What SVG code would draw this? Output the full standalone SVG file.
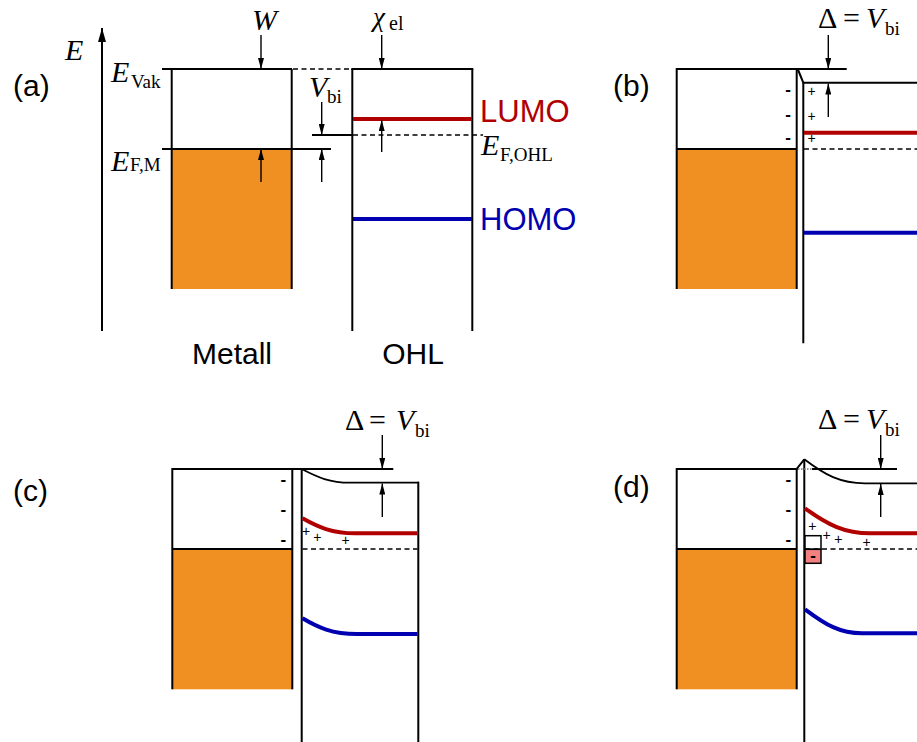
<svg xmlns="http://www.w3.org/2000/svg" width="917" height="742" viewBox="0 0 917 742">
<defs>
<style>
.ln{stroke:#000;stroke-width:2;fill:none}
.cv{stroke:#000;stroke-width:1.8;fill:none}
.dash{stroke:#000;stroke-width:1.6;stroke-dasharray:5 3.5;fill:none}
.dot{stroke:#777;stroke-width:1.3;stroke-dasharray:1.5 1.5;fill:none}
.lumo{stroke:#B00000;stroke-width:4;fill:none}
.homo{stroke:#0000B0;stroke-width:4;fill:none}
.metal{fill:#F09022}
.arr{stroke:#000;stroke-width:1.4;fill:none;marker-end:url(#ah)}
.lab{font-family:"Liberation Sans",Arial,sans-serif;font-size:30px;fill:#000}
.m{font-family:"Liberation Serif","Times New Roman",serif;font-size:30px;font-style:italic;fill:#000}
.r{font-family:"Liberation Serif","Times New Roman",serif;font-size:30px;fill:#000}
.sub{font-family:"Liberation Serif","Times New Roman",serif;font-size:19px;fill:#000}
.neg{font-family:"Liberation Sans",Arial,sans-serif;font-size:17px;font-weight:bold;text-anchor:middle;fill:#000}
.pos{font-family:"Liberation Sans",Arial,sans-serif;font-size:14px;text-anchor:middle;fill:#000}
</style>
<marker id="ah" markerUnits="userSpaceOnUse" markerWidth="11" markerHeight="6" refX="11" refY="3" orient="auto"><path d="M0,0 L11,3 L0,6 z" fill="#000"/></marker>
<marker id="axh" markerUnits="userSpaceOnUse" markerWidth="14" markerHeight="8" refX="14" refY="4" orient="auto"><path d="M0,0 L14,4 L0,8 z" fill="#000"/></marker>
</defs>
<rect width="917" height="742" fill="#fff"/>

<!-- Panel (a) -->
<g id="panel-a">
  <text class="lab" x="13" y="96">(a)</text>
  <g id="a-axis">
    <line x1="102" y1="331" x2="102" y2="28" stroke="#000" stroke-width="2" marker-end="url(#axh)"/>
    <text class="m" x="65" y="60">E</text>
  </g>
  <g id="a-metal">
    <rect class="metal" x="171.7" y="149" width="120" height="140"/>
    <line class="ln" x1="171.7" y1="69" x2="171.7" y2="289"/>
    <line class="ln" x1="291.7" y1="69" x2="291.7" y2="289"/>
    <line class="ln" x1="162" y1="69" x2="292" y2="69"/>
    <line class="ln" x1="162" y1="149" x2="331" y2="149"/>
    <line class="dash" x1="293" y1="69" x2="352" y2="69"/>
    <text class="m" x="111" y="82">E</text><text class="sub" x="131" y="88">Vak</text>
    <text class="m" x="111" y="171">E</text><text class="sub" x="130" y="171">F,M</text>
    <text class="m" x="252" y="30">W</text>
    <text class="lab" x="232" y="364" text-anchor="middle">Metall</text>
  </g>
  <g id="a-ohl">
    <line class="ln" x1="352.3" y1="69" x2="352.3" y2="331"/>
    <line class="ln" x1="472.3" y1="69" x2="472.3" y2="331"/>
    <line class="ln" x1="351.3" y1="69" x2="473.3" y2="69"/>
    <line class="lumo" x1="353" y1="119" x2="472" y2="119"/>
    <line class="homo" x1="353" y1="219" x2="472" y2="219"/>
    <line class="ln" x1="312" y1="135" x2="352" y2="135" style="stroke-width:1.8"/>
    <line class="dash" x1="353" y1="135" x2="483" y2="135"/>
    <text class="lab" x="480" y="121.7" style="fill:#B00000;font-size:31px">LUMO</text>
    <text class="lab" x="480" y="230" style="fill:#0000B0;font-size:31px">HOMO</text>
    <text class="m" x="481" y="155">E</text><text class="sub" x="500" y="160.7">F,OHL</text>
    <text class="m" x="373" y="26" style="font-size:27px">χ</text><text class="sub" x="389" y="30" style="font-size:20px">el</text>
    <text class="m" x="309" y="97">V</text><text class="sub" x="327" y="103.3">bi</text>
    <text class="lab" x="413" y="364" text-anchor="middle">OHL</text>
  </g>
</g>

<!-- Panel (b) -->
<g id="panel-b">
  <text class="lab" x="613" y="96">(b)</text>
  <g id="b-metal">
    <rect class="metal" x="676.7" y="149" width="120" height="140"/>
    <line class="ln" x1="676.7" y1="68" x2="676.7" y2="289"/>
    <line class="ln" x1="796.7" y1="69" x2="796.7" y2="289"/>
    <line class="ln" x1="676.7" y1="69" x2="846.7" y2="69"/>
    <line class="ln" x1="676.7" y1="149" x2="796.7" y2="149"/>
    <text class="neg" x="788" y="95">-</text>
    <text class="neg" x="788" y="120">-</text>
    <text class="neg" x="788" y="143">-</text>
  </g>
  <g id="b-ohl">
    <polyline class="ln" points="797.7,69 803.3,82.7 917,82.7"/>
    <line class="ln" x1="803.3" y1="82.7" x2="803.3" y2="343.3"/>
    <line class="lumo" x1="804" y1="132.7" x2="917" y2="132.7"/>
    <line class="dash" x1="804" y1="149" x2="917" y2="149"/>
    <line class="homo" x1="804" y1="232.7" x2="917" y2="232.7"/>
    <text class="pos" x="811.7" y="95.5">+</text>
    <text class="pos" x="811.7" y="120.5">+</text>
    <text class="pos" x="811.7" y="143">+</text>
  </g>
  <g id="b-label">
    <text class="r" x="818" y="28">Δ</text><text class="r" x="843" y="28">=</text><text class="m" x="866" y="28">V</text><text class="sub" x="885" y="35">bi</text>
  </g>
</g>

<!-- Panel (c) -->
<g id="panel-c">
  <text class="lab" x="13" y="501">(c)</text>
  <g id="c-metal">
    <rect class="metal" x="172.3" y="549" width="120" height="140.3"/>
    <line class="ln" x1="172.3" y1="468" x2="172.3" y2="689.3"/>
    <line class="ln" x1="292.3" y1="469" x2="292.3" y2="689.3"/>
    <line class="ln" x1="172.3" y1="469" x2="393.3" y2="469"/>
    <line class="ln" x1="172.3" y1="549" x2="292.3" y2="549"/>
    <text class="neg" x="283.3" y="485">-</text>
    <text class="neg" x="283.3" y="515">-</text>
    <text class="neg" x="283.3" y="545">-</text>
  </g>
  <g id="c-ohl">
    <line class="ln" x1="301.7" y1="469" x2="301.7" y2="742"/>
    <line class="ln" x1="418.3" y1="481.8" x2="418.3" y2="742"/>
    <path class="cv" d="M301.7,469 C318,477.5 330,482.7 350,482.7 L419,482.7"/>
    <path class="lumo" d="M302.5,518.3 C318,527 332,533.3 355,533.3 L417.5,533.3"/>
    <line class="dash" x1="302.5" y1="549" x2="417.5" y2="549"/>
    <path class="homo" d="M302.5,618.3 C318,627.5 332,634 357,634 L417.5,634"/>
    <text class="pos" x="306" y="536">+</text>
    <text class="pos" x="317.3" y="541.7">+</text>
    <text class="pos" x="345.7" y="545">+</text>
  </g>
  <g id="c-label">
    <text class="r" x="345" y="430">Δ</text><text class="r" x="369" y="430">=</text><text class="m" x="396" y="430">V</text><text class="sub" x="415" y="437">bi</text>
  </g>
</g>

<!-- Panel (d) -->
<g id="panel-d">
  <text class="lab" x="613" y="497">(d)</text>
  <g id="d-metal">
    <rect class="metal" x="676.7" y="549" width="120" height="140.3"/>
    <line class="ln" x1="676.7" y1="468" x2="676.7" y2="689.3"/>
    <line class="ln" x1="796.7" y1="469" x2="796.7" y2="689.3"/>
    <line class="ln" x1="676.7" y1="469" x2="796.7" y2="469"/>
    <line class="ln" x1="676.7" y1="549" x2="796.7" y2="549"/>
    <text class="neg" x="788.3" y="485">-</text>
    <text class="neg" x="788.3" y="515">-</text>
    <text class="neg" x="788.3" y="545">-</text>
  </g>
  <g id="d-ohl">
    <line class="ln" x1="796.2" y1="469.5" x2="804.3" y2="459.3"/>
    <line class="ln" x1="804.3" y1="459.3" x2="804.3" y2="742"/>
    <line class="dot" x1="798" y1="469" x2="812" y2="469"/>
    <line class="ln" x1="812" y1="469" x2="897" y2="469" style="stroke-width:1.8"/>
    <path class="cv" d="M804.3,459.3 C825,475 840,483.3 865,483.3 L917,483.3"/>
    <path class="lumo" d="M805,508.3 C828,525 845,533.3 870,533.3 L917,533.3"/>
    <path class="homo" d="M805,609.3 C826,625 840,633.3 862,633.3 L917,633.3"/>
    <g id="d-trap">
      <rect x="805" y="535.7" width="16" height="13.6" fill="#fff" stroke="#000" stroke-width="1.5"/>
      <rect x="805" y="549.3" width="16" height="14" fill="#F28080" stroke="#000" stroke-width="1.5"/>
      <text class="neg" x="813" y="561">-</text>
    </g>
    <line class="dash" x1="805" y1="549" x2="917" y2="549"/>
    <text class="pos" x="812.3" y="531">+</text>
    <text class="pos" x="826.7" y="540">+</text>
    <text class="pos" x="838.3" y="544.3">+</text>
    <text class="pos" x="866.7" y="546.7">+</text>
  </g>
  <g id="d-label">
    <text class="r" x="818" y="429">Δ</text><text class="r" x="843" y="429">=</text><text class="m" x="866" y="429">V</text><text class="sub" x="885" y="436">bi</text>
  </g>
</g>

<!-- Connectors (arrows) -->
<g id="connectors">
  <line class="arr" x1="261" y1="35" x2="261" y2="69"/>
  <line class="arr" x1="261" y1="182" x2="261" y2="149"/>
  <line class="arr" x1="321.7" y1="102" x2="321.7" y2="135"/>
  <line class="arr" x1="321.7" y1="182" x2="321.7" y2="149"/>
  <line class="arr" x1="381.7" y1="35" x2="381.7" y2="69"/>
  <line class="arr" x1="381.7" y1="152" x2="381.7" y2="120"/>
  <line class="arr" x1="828.3" y1="35" x2="828.3" y2="69"/>
  <line class="arr" x1="828.3" y1="117" x2="828.3" y2="83.5"/>
  <line class="arr" x1="382.3" y1="435" x2="382.3" y2="469"/>
  <line class="arr" x1="382.3" y1="517" x2="382.3" y2="483.5"/>
  <line class="arr" x1="880.7" y1="435" x2="880.7" y2="469"/>
  <line class="arr" x1="880.7" y1="517" x2="880.7" y2="484"/>
</g>
</svg>
